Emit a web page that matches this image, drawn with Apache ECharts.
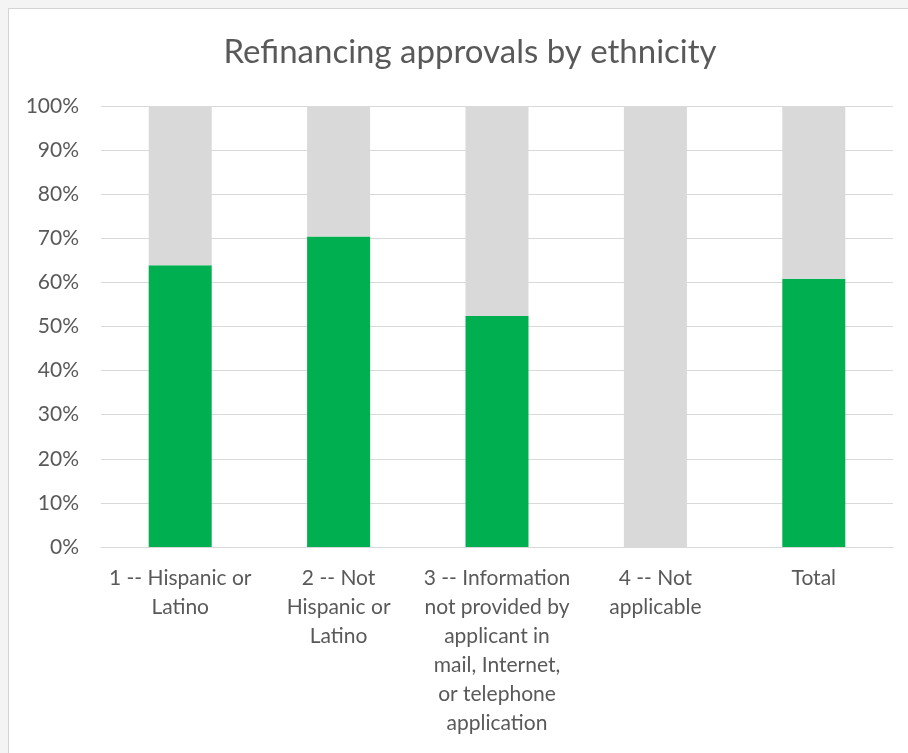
<!DOCTYPE html>
<html>
<head>
<meta charset="utf-8">
<script src="https://cdn.jsdelivr.net/npm/echarts@6/dist/echarts.min.js"></script>
<style>
html,body{margin:0;padding:0;background:#f4f4f4;width:908px;height:753px;overflow:hidden;}
#frame{position:absolute;left:8px;top:8px;width:910px;height:760px;background:#fff;border:1px solid #d4d4d4;box-sizing:border-box;}
#chart{position:absolute;left:0;top:0;width:908px;height:753px;}
</style>
</head>
<body>
<div id="frame"></div>
<div id="chart"></div>
<script>
const categories = [
  "1 -- Hispanic or Latino",
  "2 -- Not Hispanic or Latino",
  "3 -- Information not provided by applicant in mail, Internet, or telephone application",
  "4 -- Not applicable",
  "Total"
];
const tickLabels = [
  "1 -- Hispanic or\nLatino",
  "2 -- Not\nHispanic or\nLatino",
  "3 -- Information\nnot provided by\napplicant in\nmail, Internet,\nor telephone\napplication",
  "4 -- Not\napplicable",
  "Total"
];
const approved = [63.9, 70.4, 52.4, 0, 60.8];
const notApproved = [36.1, 29.6, 47.6, 100, 39.2];

const chart = echarts.init(document.getElementById('chart'), null, {renderer: 'canvas'});
chart.setOption({
  backgroundColor: 'transparent',
  animation: false,
  title: {
    text: 'Refinancing approvals by ethnicity',
    left: 465, top: 31, textAlign: 'center',
    textStyle: {fontFamily: 'Lato', fontSize: 33, fontWeight: 'normal', color: '#595959'}
  },
  grid: {left: 101, right: 15, top: 106, bottom: 206, containLabel: false},
  xAxis: {
    type: 'category',
    data: categories,
    axisLine: {show: true, lineStyle: {color: '#d9d9d9', width: 1}},
    axisTick: {show: false},
    axisLabel: {
      interval: 0,
      margin: 17,
      color: '#595959',
      fontFamily: 'Lato',
      fontSize: 21,
      lineHeight: 29,
      formatter: (v, i) => tickLabels[i]
    }
  },
  yAxis: {
    type: 'value',
    min: 0, max: 100, interval: 10,
    axisLine: {show: false},
    axisTick: {show: false},
    splitLine: {lineStyle: {color: '#d9d9d9', width: 1}},
    axisLabel: {
      formatter: '{value}%',
      color: '#595959',
      fontFamily: 'Lato',
      fontSize: 21,
      margin: 22
    }
  },
  series: [
    {
      name: 'Approved', type: 'bar', stack: 'a', barWidth: 63,
      data: approved,
      itemStyle: {color: '#00b050'}
    },
    {
      name: 'Not approved', type: 'bar', stack: 'a', barWidth: 63,
      data: notApproved,
      itemStyle: {color: '#d9d9d9'}
    }
  ]
});
</script>
</body>
</html>
